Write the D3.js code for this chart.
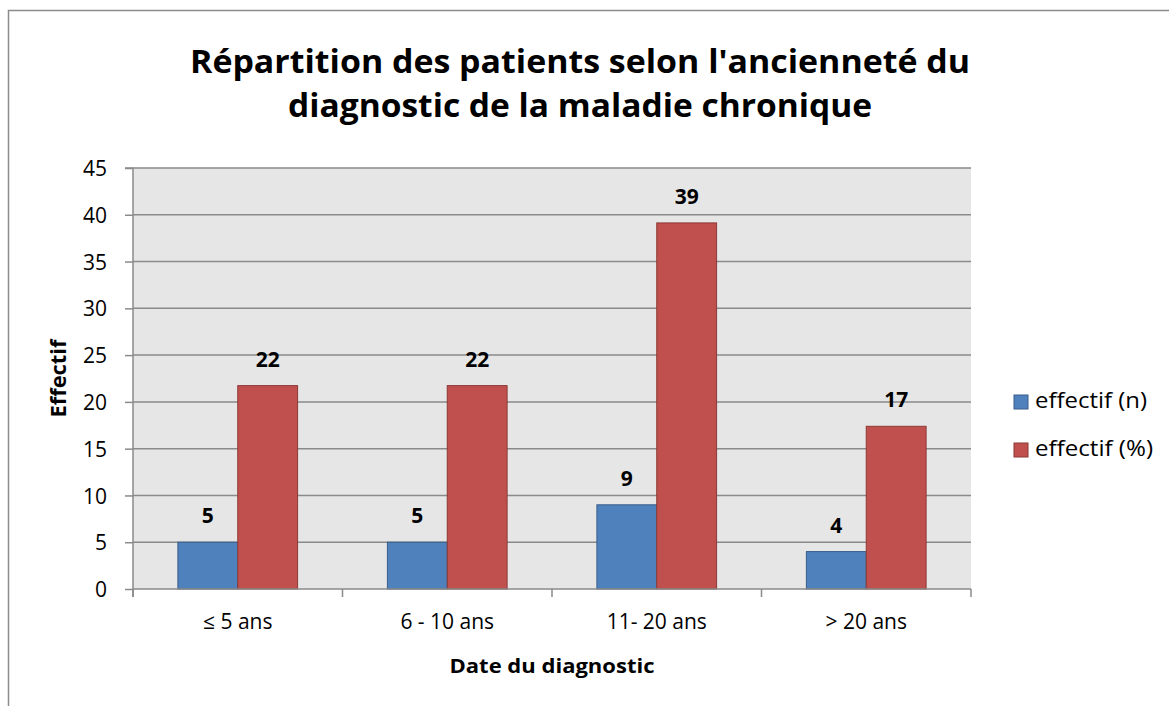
<!DOCTYPE html>
<html>
<head>
<meta charset="utf-8">
<script src="https://cdn.jsdelivr.net/npm/d3@7"></script>
<style>
  body { margin: 0; background: #fff; }
  svg text { font-family: "Open Sans", "Noto Sans", sans-serif; fill: #000; }
</style>
</head>
<body>
<div id="chart"></div>
<script>
// données
var categories = ["\u2264 5 ans", "6 - 10 ans", "11- 20 ans", "> 20 ans"];
var effectifN = [5, 5, 9, 4];
var effectifPct = [21.74, 21.74, 39.13, 17.39];
var seriesNames = ["effectif (n)", "effectif (%)"];
var seriesColors = ["#4F81BD", "#C0504D"];
var seriesStroke = ["#385D8A", "#8C3836"];
var yTicks = [0, 5, 10, 15, 20, 25, 30, 35, 40, 45];
var titleLines = ["Répartition des patients selon l'ancienneté du", "diagnostic de la maladie chronique"];

var width = 1169, height = 706;
var plot = {left: 133, right: 971, top: 168, bottom: 589};

var svg = d3.select("#chart").append("svg").attr("width", width).attr("height", height);

// cadre du graphique
svg.append("rect")
  .attr("x", 8.5).attr("y", 10.5).attr("width", 1300).attr("height", 900)
  .attr("fill", "#fff").attr("stroke", "#8c8c8c").attr("stroke-width", 1.5);

// titre
var titleW = [780, 584];
titleLines.forEach(function(t, i){
  svg.append("text")
    .attr("x", 580).attr("y", 73 + i*44)
    .attr("text-anchor", "middle")
    .attr("font-size", 32).attr("font-weight", "bold")
    .attr("textLength", titleW[i]).attr("lengthAdjust", "spacingAndGlyphs")
    .text(t);
});

var y = d3.scaleLinear().domain([0, 45]).range([plot.bottom, plot.top]);
var x0 = d3.scaleBand().domain(categories).range([plot.left, plot.right]).paddingInner(0).paddingOuter(0);
var bw = x0.bandwidth();
// écart 150% comme dans Excel
var x1 = d3.scaleBand().domain([0, 1]).range([bw/3.5*0.75, bw - bw/3.5*0.75]);

// fond zone de tracé
svg.append("rect")
  .attr("x", plot.left).attr("y", plot.top)
  .attr("width", plot.right - plot.left).attr("height", plot.bottom - plot.top)
  .attr("fill", "#E6E6E6");

// grille
svg.append("g").selectAll("line").data(yTicks.slice(1)).enter().append("line")
  .attr("x1", plot.left).attr("x2", plot.right)
  .attr("y1", function(d){ return y(d); }).attr("y2", function(d){ return y(d); })
  .attr("stroke", "#8a8a8a").attr("stroke-width", 1.5);

// barres
var series = [effectifN, effectifPct];
series.forEach(function(vals, s){
  var g = svg.append("g");
  g.selectAll("rect").data(vals).enter().append("rect")
    .attr("x", function(d, i){ return x0(categories[i]) + x1(s); })
    .attr("y", function(d){ return y(d); })
    .attr("width", x1.bandwidth())
    .attr("height", function(d){ return y(0) - y(d); })
    .attr("fill", seriesColors[s])
    .attr("stroke", seriesStroke[s]).attr("stroke-width", 1);
  g.selectAll("text").data(vals).enter().append("text")
    .attr("x", function(d, i){ return x0(categories[i]) + x1(s) + x1.bandwidth()/2; })
    .attr("y", function(d){ return y(d) - 19; })
    .attr("text-anchor", "middle")
    .attr("font-size", 21).attr("font-weight", "bold")
    .text(function(d){ return d3.format(".0f")(d); });
});

// axe Y
var yAxis = d3.axisLeft(y).tickValues(yTicks).tickSize(8).tickPadding(18);
var gy = svg.append("g").attr("transform", "translate(" + plot.left + ",0)").call(yAxis);
gy.attr("font-size", null).attr("font-family", null);
gy.select(".domain").attr("stroke", "#8a8a8a").attr("stroke-width", 1.5)
  .attr("d", "M-8," + plot.top + "H0V" + (plot.bottom + 8));
gy.selectAll(".tick line").attr("stroke", "#8a8a8a").attr("stroke-width", 1.5);
gy.selectAll(".tick text").style("font-size", "21px").attr("dy", "0.36em");

// axe X
var xAxis = d3.axisBottom(x0).tickSize(0).tickPadding(31);
var gx = svg.append("g").attr("transform", "translate(0," + plot.bottom + ")").call(xAxis);
gx.attr("font-size", null).attr("font-family", null);
gx.select(".domain").attr("stroke", "#8a8a8a").attr("stroke-width", 1.5)
  .attr("d", "M" + plot.left + ",0H" + plot.right);
gx.selectAll(".tick text").style("font-size", "21px").attr("dy", "0.45em");
var bounds = categories.map(function(c){ return x0(c); }).concat([plot.right]);
gx.append("g").selectAll("line").data(bounds).enter().append("line")
  .attr("x1", function(d){ return d; }).attr("x2", function(d){ return d; })
  .attr("y1", 0).attr("y2", 8)
  .attr("stroke", "#8a8a8a").attr("stroke-width", 1.5);

// titres des axes
svg.append("text")
  .attr("x", (plot.left + plot.right)/2).attr("y", 673)
  .attr("text-anchor", "middle").attr("font-size", 20).attr("font-weight", "bold")
  .attr("textLength", 205).attr("lengthAdjust", "spacingAndGlyphs")
  .text("Date du diagnostic");
svg.append("text")
  .attr("transform", "translate(66," + ((plot.top + plot.bottom)/2) + ") rotate(-90)")
  .attr("text-anchor", "middle").attr("font-size", 21).attr("font-weight", "bold")
  .attr("textLength", 78).attr("lengthAdjust", "spacingAndGlyphs")
  .text("Effectif");

// légende
var leg = svg.append("g").selectAll("g").data(seriesNames).enter().append("g")
  .attr("transform", function(d, i){ return "translate(1014," + (395 + i*48) + ")"; });
leg.append("rect").attr("width", 14).attr("height", 14)
  .attr("fill", function(d, i){ return seriesColors[i]; })
  .attr("stroke", function(d, i){ return seriesStroke[i]; });
leg.append("text").attr("x", 21).attr("y", 13).attr("font-size", 21)
  .attr("textLength", function(d, i){ return i === 0 ? 112 : 118; })
  .attr("lengthAdjust", "spacingAndGlyphs")
  .text(function(d){ return d; });
</script>
</body>
</html>
